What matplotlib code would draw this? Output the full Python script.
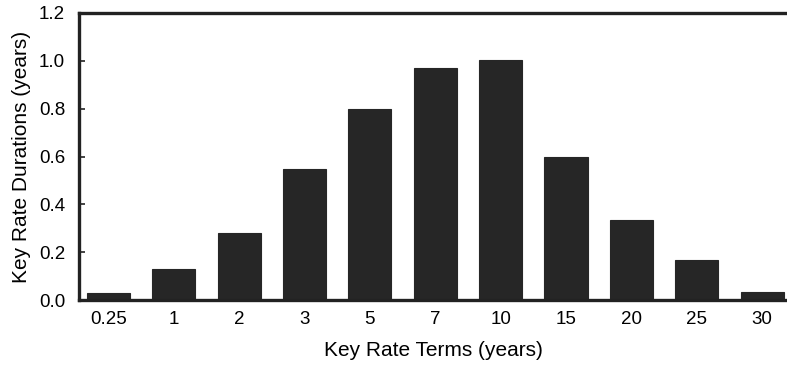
import matplotlib
matplotlib.use("Agg")
import matplotlib.pyplot as plt

terms = ["0.25", "1", "2", "3", "5", "7", "10", "15", "20", "25", "30"]
durations = [0.03, 0.13, 0.28, 0.55, 0.80, 0.97, 1.005, 0.60, 0.335, 0.168, 0.033]
yticks = [0.0, 0.2, 0.4, 0.6, 0.8, 1.0, 1.2]

plt.rcParams["font.family"] = ["Liberation Sans", "DejaVu Sans"]

fig = plt.figure(figsize=(7.87, 3.66), dpi=100)
ax = fig.add_axes([0.1004, 0.180, 0.8996, 0.7845])

bar_color = "#262626"
x = list(range(len(terms)))
ax.bar(x, durations, width=0.66, color=bar_color, edgecolor=bar_color, linewidth=0.8)

ax.set_xlim(-0.45, 10.38)
ax.set_ylim(0, 1.2)
ax.set_xticks(x)
ax.set_xticklabels(terms)
ax.set_yticks(yticks)
ax.set_yticklabels([f"{v:.1f}" for v in yticks])

for side in ("left", "top", "bottom"):
    ax.spines[side].set_linewidth(2.4)
    ax.spines[side].set_color("#222222")
ax.spines["right"].set_visible(False)

ax.tick_params(axis="y", direction="in", length=4, width=1.2, color="#222222",
               labelsize=13.5, pad=10)
ax.tick_params(axis="x", length=0, labelsize=13.5, pad=8)

ax.set_xlabel("Key Rate Terms (years)", fontsize=15, labelpad=9)
ax.set_ylabel("Key Rate Durations (years)", fontsize=15, labelpad=6)

fig.savefig("out.png", dpi=100)
